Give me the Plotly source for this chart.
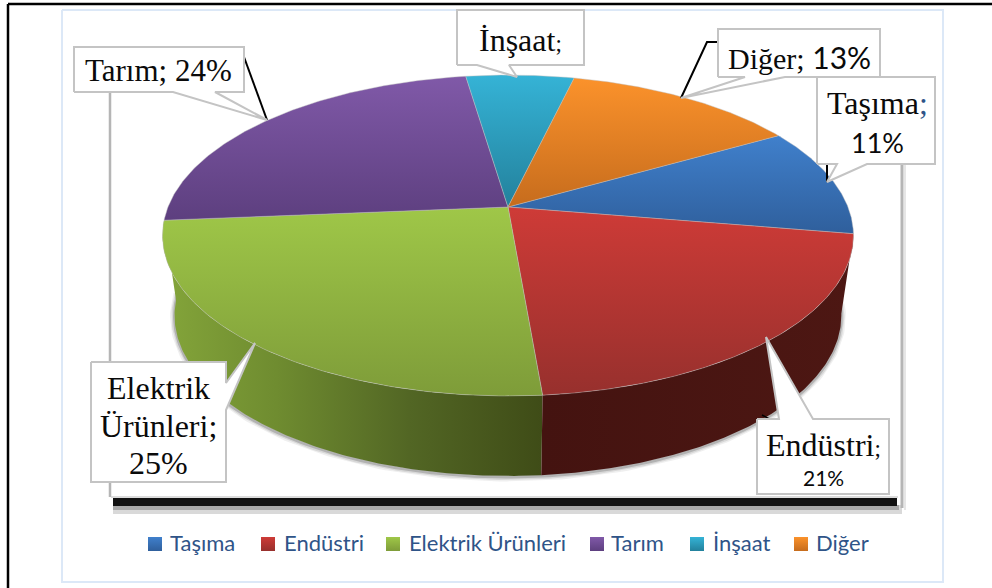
import numpy as np
import plotly.graph_objects as go

# ---------- data ----------
categories = ["Taşıma", "Endüstri", "Elektrik Ürünleri", "Tarım", "İnşaat", "Diğer"]
values = [11, 21, 25, 24, 6, 13]

# ---------- style ----------
top_light = ["#4080cc", "#ce3b37", "#9fc748", "#8059a8", "#35b3d6", "#fb922b"]
top_dark = ["#2f5f9c", "#97302d", "#7e9c39", "#5d3f7f", "#23819c", "#c66c1d"]
wall_left = {1: "#451411", 2: "#84a53a"}
wall_right = {1: "#4b1613", 2: "#3f4c17"}
FRAME = "#c4c4c4"
LEGEND_TXT = "#2f5488"
SERIF = "Liberation Serif, serif"
SANS = "Lato, sans-serif"

# projective view of the pie disc (page pixels)
CX, CY, A, B, K = 508.0, 207.0, 340.0, 155.4, 0.1776
DEPTH = 80.0
BOTTOM_SCALE = 0.965
START_DEG = 30.0


def rim(theta_deg):
    t = np.radians(theta_deg)
    u, v = np.cos(t), np.sin(t)
    d = 1 + K * v
    return CX + A * u / d, CY - B * v / d


def rim_bottom(theta_deg):
    x, y = rim(theta_deg)
    return 506.0 + (x - 506.0) * BOTTOM_SCALE, y + DEPTH


fig = go.Figure()


def poly(xs, ys, fill=None, line=None, lw=0, grad=None):
    kw = dict(x=list(xs), y=list(ys), mode="lines", fill="toself", hoverinfo="skip", showlegend=False)
    kw["line"] = dict(color=line or "rgba(0,0,0,0)", width=lw)
    if grad is not None:
        kw["fillgradient"] = grad
    else:
        kw["fillcolor"] = fill
    fig.add_trace(go.Scatter(**kw))


def stroke(xs, ys, color, w):
    fig.add_trace(go.Scatter(x=list(xs), y=list(ys), mode="lines", hoverinfo="skip", showlegend=False,
                             line=dict(color=color, width=w)))


# ---------- page frames ----------
stroke([8, 8], [600, 4], "#000000", 2.5)
stroke([8, 1000], [4, 4], "#000000", 2.5)
stroke([62, 943, 943, 62, 62], [10, 10, 582, 582, 10], "#dce8f7", 2)

# plot-area frame with heavy shadow
poly([113, 902, 902, 113], [505, 505, 514, 514], fill="#d9d9d9")
poly([113, 899, 899, 113], [505, 505, 510, 510], fill="#a8a8a8")
poly([113, 897, 897, 113], [498, 498, 506, 506], fill="#111111")
stroke([110, 110], [92, 497], "#b5b5b5", 2.5)
stroke([111, 898], [497, 497], "#d0d0d0", 1.5)
stroke([902, 902], [164, 508], "#b5b5b5", 3)
stroke([905, 905], [164, 510], "#e6e6e6", 2)

# ---------- slices ----------
edges = START_DEG - np.cumsum([0] + values) * 3.6

# wall shadow
ts = np.linspace(-178, 0, 200)
sx, sy = rim_bottom(ts)
for w, c in ((9, "rgba(120,120,120,0.12)"), (6, "rgba(110,110,110,0.18)"), (3, "rgba(90,90,90,0.3)")):
    stroke(sx, sy + 1, c, w)

# visible walls
for i in (2, 1):
    a0, a1 = edges[i], edges[i + 1]
    lim0 = min(a0, 0)
    lim1 = max(a1, -180)
    ts = np.linspace(lim0, lim1, 140)
    x, y = rim(ts)
    bx, by = rim_bottom(ts)
    px = np.concatenate([x, bx[::-1]])
    py = np.concatenate([y, by[::-1]])
    if i == 2:
        g = dict(type="horizontal", colorscale=[[0, wall_right[i]], [0.35, "#526624"], [0.7, "#6f8c30"], [1, wall_left[i]]],
                 start=float(x.max()), stop=float(x.min()))
    else:
        g = dict(type="horizontal", colorscale=[[0, "#441310"], [1, "#4d1713"]],
                 start=float(x.min()), stop=float(x.max()))
    poly(px, py, grad=g)

# top faces
for i in range(len(values)):
    ts = np.linspace(edges[i], edges[i + 1], 120)
    x, y = rim(ts)
    px = np.concatenate([[CX], x, [CX]])
    py = np.concatenate([[CY], y, [CY]])
    g = dict(type="vertical", colorscale=[[0, top_light[i]], [1, top_dark[i]]],
             start=float(py.min()), stop=float(py.max()))
    poly(px, py, grad=g, line="rgba(190,190,190,0.55)", lw=0.8)

# ---------- callouts ----------
stroke([244, 267], [57, 120], "#000000", 2)
stroke([718, 707, 681], [42, 42, 98], "#000000", 2)
stroke([827, 827], [160, 182], "#000000", 2)
stroke([762, 771], [415, 420], "#000000", 1.5)

callouts = [
    ([74, 173, 267, 215, 244, 244, 74], [92, 92, 120, 92, 92, 47, 47]),
    ([457, 477, 517, 509, 584, 584, 457], [65, 65, 77, 65, 65, 10, 10]),
    ([718, 745, 681, 785, 880, 880, 718], [77, 77, 98, 77, 77, 29, 29]),
    ([817, 837, 827, 867, 935, 935, 817], [164, 164, 182, 164, 164, 77, 77]),
    ([91, 226, 226, 255, 226, 226, 91], [362, 362, 383, 343, 410, 482, 482]),
    ([757, 779, 766, 813, 889, 889, 757], [419, 419, 337, 419, 419, 494, 494]),
]
for cx_, cy_ in callouts:
    poly(cx_ + cx_[:1], cy_ + cy_[:1], fill="#ffffff", line=FRAME, lw=2)

ann = []


def text(x, y, s, size, family=SERIF, color="#0a0a0a", anchor="center"):
    ann.append(dict(x=x, y=y, text=s, showarrow=False, xanchor=anchor, yanchor="middle", align="center",
                    font=dict(size=size, family=family, color=color)))


def small(s):
    return f'<span style="font-size:23px">{s}</span>'


text(158, 70, "Tarım; 24%", 31)
text(520, 40, "İnşaat" + small(";"), 32)
text(799, 57, "Diğer;<span style=\"font-family:Lato\"> 13%</span>", 30)
text(877, 103, "Taşıma<span style=\"color:#2f5488\">;</span>", 32)
text(877, 142, "11%", 27, SANS)
text(158, 388, "Elektrik", 32)
text(158, 426, "Ürünleri;", 32)
text(158, 463, "25%", 32)
text(823, 445, "Endüstri" + small(";"), 32)
text(823, 477, "21%", 21, SANS)

# ---------- legend ----------
swatch_x = [148, 261, 386, 590, 690, 794]
text_x = [168, 282, 407, 609, 711, 814]
for i, name in enumerate(categories):
    x0 = swatch_x[i]
    g = dict(type="vertical", colorscale=[[0, top_light[i]], [1, top_dark[i]]], start=537.0, stop=551.0)
    poly([x0, x0 + 14, x0 + 14, x0], [537, 537, 551, 551], grad=g)
    text(text_x[i], 542, name, 22, SANS, LEGEND_TXT, "left")

fig.update_layout(
    width=992, height=588, margin=dict(l=0, r=0, t=0, b=0), autosize=False,
    paper_bgcolor="#ffffff", plot_bgcolor="#ffffff", showlegend=False, annotations=ann,
    xaxis=dict(range=[0, 992], visible=False, fixedrange=True),
    yaxis=dict(range=[588, 0], visible=False, fixedrange=True),
)
fig.write_html("out.html", config={"displayModeBar": False},
               post_script="document.body.style.margin='0';document.documentElement.style.overflow='hidden';")
